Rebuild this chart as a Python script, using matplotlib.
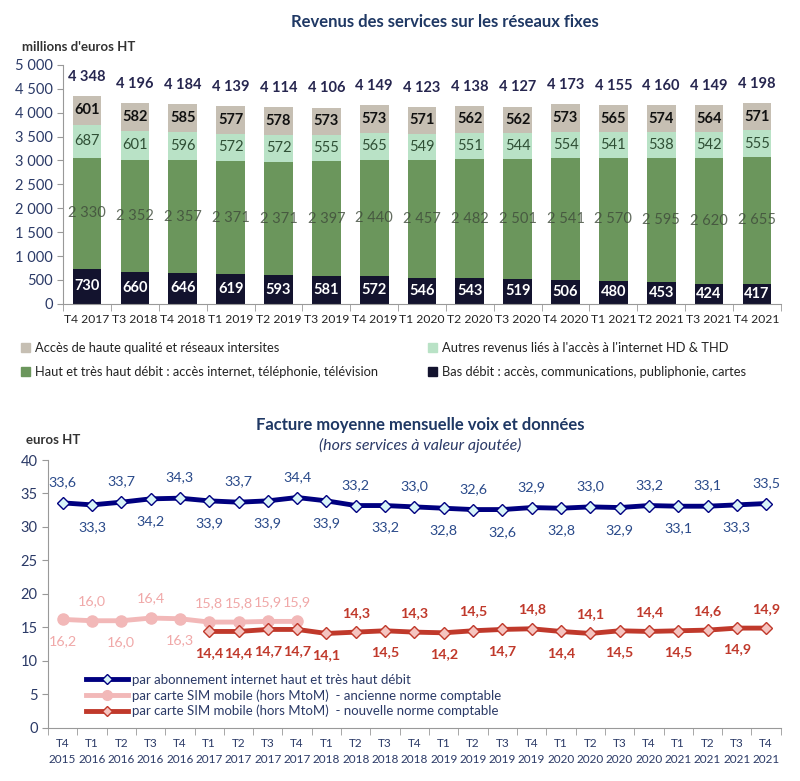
import matplotlib.pyplot as plt
from matplotlib.patches import Patch
from matplotlib.lines import Line2D

plt.rcParams['font.family'] = ['Lato', 'DejaVu Sans']

# ---------- data: revenus fixes ----------
quarters = ["T4 2017", "T3 2018", "T4 2018", "T1 2019", "T2 2019", "T3 2019", "T4 2019",
            "T1 2020", "T2 2020", "T3 2020", "T4 2020", "T1 2021", "T2 2021", "T3 2021", "T4 2021"]
bas_debit = [730, 660, 646, 619, 593, 581, 572, 546, 543, 519, 506, 480, 453, 424, 417]
haut_debit = [2330, 2352, 2357, 2371, 2371, 2397, 2440, 2457, 2482, 2501, 2541, 2570, 2595, 2620, 2655]
autres_revenus = [687, 601, 596, 572, 572, 555, 565, 549, 551, 544, 554, 541, 538, 542, 555]
haute_qualite = [601, 582, 585, 577, 578, 573, 573, 571, 562, 562, 573, 565, 574, 564, 571]
totaux = [4348, 4196, 4184, 4139, 4114, 4106, 4149, 4123, 4138, 4127, 4173, 4155, 4160, 4149, 4198]

# ---------- data: facture moyenne ----------
periods = ["T4\n2015", "T1\n2016", "T2\n2016", "T3\n2016", "T4\n2016",
           "T1\n2017", "T2\n2017", "T3\n2017", "T4\n2017",
           "T1\n2018", "T2\n2018", "T3\n2018", "T4\n2018",
           "T1\n2019", "T2\n2019", "T3\n2019", "T4\n2019",
           "T1\n2020", "T2\n2020", "T3\n2020", "T4\n2020",
           "T1\n2021", "T2\n2021", "T3\n2021", "T4\n2021"]
internet = [33.6, 33.3, 33.7, 34.2, 34.3, 33.9, 33.7, 33.9, 34.4, 33.9, 33.2, 33.2, 33.0,
            32.8, 32.6, 32.6, 32.9, 32.8, 33.0, 32.9, 33.2, 33.1, 33.1, 33.3, 33.5]
sim_ancienne = [16.2, 16.0, 16.0, 16.4, 16.3, 15.8, 15.8, 15.9, 15.9]
sim_nouvelle = [14.4, 14.4, 14.7, 14.7, 14.1, 14.3, 14.5, 14.3, 14.2, 14.5, 14.7, 14.8,
                14.4, 14.1, 14.5, 14.4, 14.5, 14.6, 14.9, 14.9]
# label position: True = above the point
ancienne_above = [False, True, False, True, False, True, True, True, True]
nouvelle_above = [False, False, False, False, False, True, False, True, False, True, False, True,
                  False, True, False, True, False, True, False, True]

NAVY = '#1f3864'
TXT = '#2b3a67'


def fr(v, dec=0):
    if dec:
        return f"{v:.{dec}f}".replace('.', ',')
    return f"{v:,}".replace(',', ' ')


fig = plt.figure(figsize=(8, 7.81), dpi=100)

# ================= top chart =================
ax1 = fig.add_axes([0.079, 0.611, 0.897, 0.306])
x = list(range(len(quarters)))
w = 0.6
c_bas, c_haut, c_aut, c_hq = '#13132e', '#6b965c', '#b9e2c6', '#c6bfb3'
b1 = [a for a in bas_debit]
b2 = [a + b for a, b in zip(bas_debit, haut_debit)]
b3 = [a + b for a, b in zip(b2, autres_revenus)]
ax1.bar(x, bas_debit, w, color=c_bas)
ax1.bar(x, haut_debit, w, bottom=b1, color=c_haut)
ax1.bar(x, autres_revenus, w, bottom=b2, color=c_aut)
ax1.bar(x, haute_qualite, w, bottom=b3, color=c_hq)

for i in x:
    ax1.text(i, bas_debit[i] / 2, fr(bas_debit[i]), ha='center', va='center',
             color='white', fontsize=10.5, fontweight='bold')
    ax1.text(i, b1[i] + haut_debit[i] / 2, fr(haut_debit[i]), ha='center', va='center',
             color='#3e4a3a', fontsize=10.5, alpha=0.8)
    ax1.text(i, b2[i] + autres_revenus[i] / 2, fr(autres_revenus[i]), ha='center', va='center',
             color='#2f4f35', fontsize=10.5)
    ax1.text(i, b3[i] + haute_qualite[i] / 2, fr(haute_qualite[i]), ha='center', va='center',
             color='#111111', fontsize=10.5, fontweight='bold')
    ax1.text(i, totaux[i] + 400, fr(totaux[i]), ha='center', va='center',
             color='#26264f', fontsize=10.5, fontweight='bold')

ax1.set_xlim(-0.5, len(quarters) - 0.5)
ax1.set_ylim(0, 5000)
ax1.set_yticks(range(0, 5001, 500))
ax1.set_yticklabels([fr(v) for v in range(0, 5001, 500)], color=TXT, fontsize=10.5)
ax1.set_xticks(x)
ax1.set_xticklabels(quarters, fontsize=8.7, color='#222222')
ax1.tick_params(axis='x', length=0, pad=7)
ax1.set_xticks([i + 0.5 for i in range(-1, len(quarters))], minor=True)
ax1.tick_params(axis='x', which='minor', length=5, color='#999999')
ax1.tick_params(axis='y', length=4, color='#999999')
for s in ['top', 'right']:
    ax1.spines[s].set_visible(False)
for s in ['left', 'bottom']:
    ax1.spines[s].set_color('#999999')

fig.text(0.556, 0.972, "Revenus des services sur les réseaux fixes", ha='center', va='center',
         fontsize=12, fontweight='bold', color=NAVY)
fig.text(0.027, 0.940, "millions d'euros HT", ha='left', va='center',
         fontsize=9.5, fontweight='bold', color='#333333')

handles1 = [Patch(color=c_hq, label="Accès de haute qualité et réseaux intersites"),
            Patch(color=c_haut, label="Haut et très haut débit : accès internet, téléphonie, télévision"),
            Patch(color=c_aut, label="Autres revenus liés à l'accès à l'internet HD & THD"),
            Patch(color=c_bas, label="Bas débit : accès, communications, publiphonie, cartes")]
fig.legend(handles=handles1, ncol=2, loc='center left', bbox_to_anchor=(0.012, 0.539),
           frameon=False, fontsize=9.3, handlelength=0.7, handleheight=0.7,
           handletextpad=0.4, columnspacing=3.8, labelspacing=0.9, labelcolor='#222222')

# ================= bottom chart =================
ax2 = fig.add_axes([0.060, 0.068, 0.916, 0.343])
xp = list(range(len(periods)))
x_anc = xp[:len(sim_ancienne)]
x_nou = xp[len(periods) - len(sim_nouvelle):]

ax2.plot(x_anc, sim_ancienne, color='#f2b8b8', lw=3.5, marker='o', ms=8,
         mfc='#f2b8b8', mec='#f2b8b8', zorder=3)
ax2.plot(x_nou, sim_nouvelle, color='#c0392b', lw=3.5, marker='D', ms=6,
         mfc='#f5c4c0', mec='#c0392b', zorder=4)
ax2.plot(xp, internet, color='#000080', lw=3.5, marker='D', ms=6,
         mfc='#d8f4f8', mec='#000080', zorder=5)

for i, v in enumerate(internet):
    dy = 3.1 if i % 2 == 0 else -3.3
    ax2.text(i, v + dy, fr(v, 1), ha='center', va='center', color='#2a4a8a', fontsize=10.3)
for i, v in enumerate(sim_ancienne):
    dy = 2.9 if ancienne_above[i] else -3.2
    ax2.text(x_anc[i], v + dy, fr(v, 1), ha='center', va='center', color='#f0a8a8', fontsize=10.3)
for i, v in enumerate(sim_nouvelle):
    dy = 2.9 if nouvelle_above[i] else -3.2
    ax2.text(x_nou[i], v + dy, fr(v, 1), ha='center', va='center', color='#c0392b',
             fontsize=10.3, fontweight='bold')

ax2.set_xlim(-0.5, len(periods) - 0.5)
ax2.set_ylim(0, 40)
ax2.set_yticks(range(0, 41, 5))
ax2.set_yticklabels([str(v) for v in range(0, 41, 5)], color=TXT, fontsize=10.5)
ax2.set_xticks(xp)
ax2.set_xticklabels(periods, fontsize=8.5, color=TXT, linespacing=1.6)
ax2.tick_params(axis='x', length=0, pad=7)
ax2.set_xticks([i + 0.5 for i in range(-1, len(periods))], minor=True)
ax2.tick_params(axis='x', which='minor', length=5, color='#999999')
ax2.tick_params(axis='y', length=4, color='#999999')
for s in ['top', 'right']:
    ax2.spines[s].set_visible(False)
for s in ['left', 'bottom']:
    ax2.spines[s].set_color('#999999')

handles2 = [
    Line2D([], [], color='#000080', lw=3.5, marker='D', ms=5, mfc='#d8f4f8', mec='#000080'),
    Line2D([], [], color='#f2b8b8', lw=3.5, marker='o', ms=7, mfc='#f2b8b8', mec='#f2b8b8'),
    Line2D([], [], color='#c0392b', lw=3.5, marker='D', ms=5, mfc='#f5c4c0', mec='#c0392b'),
]
labels2 = ["par abonnement internet haut et très haut débit",
           "par carte SIM mobile (hors MtoM)  - ancienne norme comptable",
           "par carte SIM mobile (hors MtoM)  - nouvelle norme comptable"]
ax2.legend(handles2, labels2, loc='lower left', bbox_to_anchor=(0.035, -0.005), frameon=False,
           fontsize=9.5, handlelength=3.2, handletextpad=0.3, labelspacing=0.25,
           labelcolor='#2b3a67')

fig.text(0.525, 0.456, "Facture moyenne mensuelle voix et données", ha='center', va='center',
         fontsize=12, fontweight='bold', color=NAVY)
fig.text(0.525, 0.429, "(hors services à valeur ajoutée)", ha='center', va='center',
         fontsize=11.5, style='italic', color=TXT)
fig.text(0.032, 0.437, "euros HT", ha='left', va='center',
         fontsize=9.5, fontweight='bold', color='#333333')

fig.savefig("out.png", dpi=100)
